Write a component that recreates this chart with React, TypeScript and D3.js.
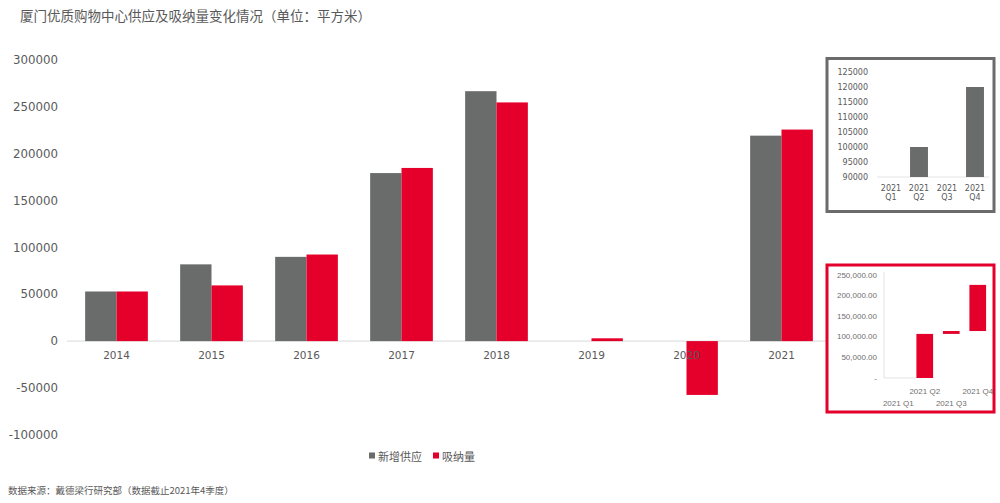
import React from "react";
import * as d3 from "d3";

const years = ["2014", "2015", "2016", "2017", "2018", "2019", "2020", "2021"];
const supply = [53000, 82000, 90000, 179500, 267000, 0, 0, 219500];
const absorption = [53000, 59500, 92500, 185000, 255000, 3000, -57500, 226000];
const yTicks = [-100000, -50000, 0, 50000, 100000, 150000, 200000, 250000, 300000];

const quarters = ["Q1", "Q2", "Q3", "Q4"];
const supplyQ = [0, 100000, 0, 120000];
const supplyQTicks = [90000, 95000, 100000, 105000, 110000, 115000, 120000, 125000];
const absorptionQ = [0, 107000, 7000, 112000];
const absorptionQTicks = [0, 50000, 100000, 150000, 200000, 250000];

const GRAY = "#6a6b6b";
const RED = "#e4002b";
const TXT = "#595959";
const CJK = "'Noto Sans CJK SC', 'Noto Sans', sans-serif";
const LAT = "'DejaVu Sans', sans-serif";

export default function App() {
  // main chart
  const x = d3.scaleBand().domain(years).range([69, 829]).paddingInner(0.34).paddingOuter(0.17);
  const xs = d3.scaleBand().domain(["s", "a"]).range([0, x.bandwidth()]).padding(0);
  const y = d3.scaleLinear().domain([-100000, 300000]).range([434.7, 60.3]);

  // inset 1
  const x1 = d3.scaleBand().domain(quarters).range([877, 989]).paddingInner(0.36).paddingOuter(0.18);
  const y1 = d3.scaleLinear().domain([90000, 125000]).range([177, 72]);

  // inset 2
  const x2 = d3.scaleBand().domain(quarters).range([885, 991]).paddingInner(0.37).paddingOuter(0.185);
  const y2 = d3.scaleLinear().domain([0, 250000]).range([378, 275]);
  const cum: number[] = [];
  absorptionQ.reduce((acc, v, i) => {
    cum[i] = acc + v;
    return acc + v;
  }, 0);
  const fmt2 = (v: number) => (v === 0 ? "-" : d3.format(",.2f")(v));

  return (
    <div style={{ position: "absolute", left: 0, top: 0 }}>
      <svg width={1000} height={503} style={{ display: "block", background: "#fff" }}>
        <text x={20} y={15} dominantBaseline="central" fontFamily={CJK} fontSize={13.5} fill={TXT}>
          厦门优质购物中心供应及吸纳量变化情况（单位：平方米）
        </text>

        {yTicks.map((t) => (
          <text key={t} x={58} y={y(t)} textAnchor="end" dominantBaseline="central" fontFamily={LAT} fontSize={11.8} fill={TXT}>
            {t}
          </text>
        ))}

        <line x1={67} x2={829} y1={y(0)} y2={y(0)} stroke="#d9d9d9" strokeWidth={1} />

        {years.map((yr, i) => {
          const x0 = x(yr)!;
          const s = supply[i];
          const a = absorption[i];
          return (
            <g key={yr}>
              {s !== 0 && (
                <rect x={x0 + xs("s")!} width={xs.bandwidth()} y={y(Math.max(0, s))} height={Math.abs(y(s) - y(0))} fill={GRAY} />
              )}
              {a !== 0 && (
                <rect x={x0 + xs("a")!} width={xs.bandwidth()} y={y(Math.max(0, a))} height={Math.abs(y(a) - y(0))} fill={RED} />
              )}
            </g>
          );
        })}
        {years.map((yr) => (
          <text key={yr} x={x(yr)! + x.bandwidth() / 2} y={355} textAnchor="middle" dominantBaseline="central" fontFamily={LAT} fontSize={10.5} fill={TXT}>
            {yr}
          </text>
        ))}

        {/* legend */}
        <rect x={369} y={452.5} width={6} height={6} fill={GRAY} />
        <text x={378} y={455.5} dominantBaseline="central" fontFamily={CJK} fontSize={11} fill={TXT}>新增供应</text>
        <rect x={433} y={452.5} width={6} height={6} fill={RED} />
        <text x={442} y={455.5} dominantBaseline="central" fontFamily={CJK} fontSize={11} fill={TXT}>吸纳量</text>

        <text x={8} y={490} dominantBaseline="central" fontFamily={CJK} fontSize={9.5} fill={TXT}>
          数据来源：戴德梁行研究部（数据截止2021年4季度）
        </text>

        {/* inset 1: supply by quarter */}
        <rect x={827} y={58.5} width={167} height={153} fill="#fff" stroke="#6b6b6b" strokeWidth={3} />
        {supplyQTicks.map((t) => (
          <text key={t} x={868} y={y1(t)} textAnchor="end" dominantBaseline="central" fontFamily={LAT} fontSize={8} fill={TXT}>
            {t}
          </text>
        ))}
        <line x1={877} x2={989} y1={y1(90000)} y2={y1(90000)} stroke="#e3e3e3" strokeWidth={1} />
        {quarters.map((q, i) =>
          supplyQ[i] > 90000 ? (
            <rect key={q} x={x1(q)!} width={x1.bandwidth()} y={y1(supplyQ[i])} height={y1(90000) - y1(supplyQ[i])} fill={GRAY} />
          ) : null
        )}
        {quarters.map((q) => (
          <g key={q} fontFamily={LAT} fontSize={8} fill={TXT} textAnchor="middle">
            <text x={x1(q)! + x1.bandwidth() / 2} y={188} dominantBaseline="central">2021</text>
            <text x={x1(q)! + x1.bandwidth() / 2} y={197.5} dominantBaseline="central">{q}</text>
          </g>
        ))}

        {/* inset 2: absorption waterfall */}
        <rect x={827} y={265} width={167} height={147} fill="#fff" stroke={RED} strokeWidth={3} />
        {absorptionQTicks.map((t) => (
          <text key={t} x={877} y={y2(t)} textAnchor="end" dominantBaseline="central" fontFamily="'Liberation Sans', sans-serif" fontSize={8} fill="#6f6f6f">
            {fmt2(t)}
          </text>
        ))}
        <line x1={884} x2={884} y1={272} y2={y2(0)} stroke="#e3e3e3" strokeWidth={1} />
        <line x1={884} x2={x2("Q2")!} y1={y2(0)} y2={y2(0)} stroke="#e3e3e3" strokeWidth={1} />
        {quarters.map((q, i) => {
          const start = i === 0 ? 0 : cum[i - 1];
          const end = cum[i];
          if (end === start) return null;
          return (
            <rect key={q} x={x2(q)!} width={x2.bandwidth()} y={y2(Math.max(start, end))} height={Math.abs(y2(start) - y2(end))} fill={RED} />
          );
        })}
        {quarters.map((q, i) => (
          <text
            key={q}
            x={x2(q)! + x2.bandwidth() / 2}
            y={i % 2 === 1 ? 391.5 : 403}
            textAnchor="middle"
            dominantBaseline="central"
            fontFamily="'Liberation Sans', sans-serif"
            fontSize={8}
            fill="#6f6f6f"
          >
            {"2021 " + q}
          </text>
        ))}
      </svg>
    </div>
  );
}
